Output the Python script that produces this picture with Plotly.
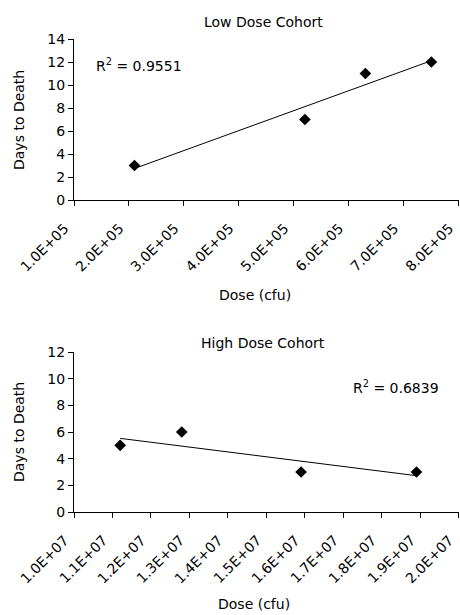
import numpy as np
import plotly.graph_objects as go

# Low dose cohort
low_dose = [2.1e5, 5.2e5, 6.3e5, 7.5e5]
low_days = [3, 7, 11, 12]
low_tickvals = [1e5, 2e5, 3e5, 4e5, 5e5, 6e5, 7e5, 8e5]
low_ticktext = ["1.0E+05", "2.0E+05", "3.0E+05", "4.0E+05", "5.0E+05", "6.0E+05", "7.0E+05", "8.0E+05"]
low_r2 = "R<sup>2</sup> = 0.9551"

# High dose cohort
high_dose = [1.12e7, 1.28e7, 1.59e7, 1.89e7]
high_days = [5, 6, 3, 3]
high_tickvals = [1.0e7, 1.1e7, 1.2e7, 1.3e7, 1.4e7, 1.5e7, 1.6e7, 1.7e7, 1.8e7, 1.9e7, 2.0e7]
high_ticktext = ["1.0E+07", "1.1E+07", "1.2E+07", "1.3E+07", "1.4E+07", "1.5E+07",
                 "1.6E+07", "1.7E+07", "1.8E+07", "1.9E+07", "2.0E+07"]
high_r2 = "R<sup>2</sup> = 0.6839"

FONT = "DejaVu Sans"
FS = 14

def trend(x, y):
    x = np.array(x, dtype=float)
    y = np.array(y, dtype=float)
    m, c = np.polyfit(x, y, 1)
    xs = np.array([x.min(), x.max()])
    return xs, m * xs + c

fig = go.Figure()

lx, ly = trend(low_dose, low_days)
fig.add_trace(go.Scatter(x=lx, y=ly, mode="lines", line=dict(color="black", width=1),
                         xaxis="x", yaxis="y", showlegend=False, hoverinfo="skip"))
fig.add_trace(go.Scatter(x=low_dose, y=low_days, mode="markers",
                         marker=dict(symbol="diamond", size=9, color="black"),
                         xaxis="x", yaxis="y", showlegend=False))

hx, hy = trend(high_dose, high_days)
fig.add_trace(go.Scatter(x=hx, y=hy, mode="lines", line=dict(color="black", width=1),
                         xaxis="x2", yaxis="y2", showlegend=False, hoverinfo="skip"))
fig.add_trace(go.Scatter(x=high_dose, y=high_days, mode="markers",
                         marker=dict(symbol="diamond", size=9, color="black"),
                         xaxis="x2", yaxis="y2", showlegend=False))

axis_common = dict(showgrid=False, zeroline=False, showline=True, linecolor="black",
                   linewidth=1, ticks="outside", ticklen=5, tickcolor="black",
                   automargin=False,
                   tickfont=dict(family=FONT, size=FS, color="black"))

H = 615
W = 460
T = 39
B = 103
L = 74
R = 1
plot_h = H - T - B

def py(p):
    return (H - B - p) / plot_h

def pxx(p):
    return (p - L) / (W - R - L)

fig.update_layout(
    width=W, height=H,
    margin=dict(l=L, r=R, t=T, b=B, autoexpand=False),
    paper_bgcolor="white", plot_bgcolor="white",
    font=dict(family=FONT, size=FS, color="black"),
    xaxis=dict(domain=[0, 1], range=[1e5, 8.003e5], tickvals=low_tickvals,
               showticklabels=False, anchor="y", **axis_common),
    yaxis=dict(domain=[py(200), 1], range=[0, 14], dtick=2, anchor="x", **axis_common),
    xaxis2=dict(domain=[0, 1], range=[1e7, 2.0004e7], tickvals=high_tickvals,
                showticklabels=False, anchor="y2", **axis_common),
    yaxis2=dict(domain=[0, py(352)], range=[0, 12], dtick=2, anchor="x2", **axis_common),
)

ann_font = dict(family=FONT, size=FS, color="black")

annotations = [
    dict(text="Low Dose Cohort", xref="paper", yref="paper", x=pxx(263), y=py(22),
         showarrow=False, font=ann_font, xanchor="center", yanchor="middle"),
    dict(text="High Dose Cohort", xref="paper", yref="paper", x=pxx(263), y=py(343),
         showarrow=False, font=ann_font, xanchor="center", yanchor="middle"),
    dict(text="Dose (cfu)", xref="paper", yref="paper", x=pxx(255), y=py(295),
         showarrow=False, font=ann_font, xanchor="center", yanchor="middle"),
    dict(text="Dose (cfu)", xref="paper", yref="paper", x=pxx(254), y=py(604),
         showarrow=False, font=ann_font, xanchor="center", yanchor="middle"),
    dict(text="Days to Death", xref="paper", yref="paper", x=pxx(19), y=py(120),
         showarrow=False, font=ann_font, textangle=-90, xanchor="center", yanchor="middle"),
    dict(text="Days to Death", xref="paper", yref="paper", x=pxx(19), y=py(432),
         showarrow=False, font=ann_font, textangle=-90, xanchor="center", yanchor="middle"),
    dict(text=low_r2, xref="x", yref="y", x=1.36e5, y=11.7,
         showarrow=False, font=ann_font, xanchor="left", yanchor="middle"),
    dict(text=high_r2, xref="x2", yref="y2", x=1.72e7, y=9.4,
         showarrow=False, font=ann_font, xanchor="left", yanchor="middle"),
]

# rotated tick labels, placed at the axis tick values
for xr, yr, vals, texts in [("x", "y", low_tickvals, low_ticktext),
                            ("x2", "y2", high_tickvals, high_ticktext)]:
    for v, t in zip(vals, texts):
        annotations.append(dict(text=t, xref=xr, yref=yr, x=v, y=0, textangle=-45,
                                showarrow=False, font=ann_font, xanchor="right",
                                yanchor="top", xshift=1, yshift=-17))

fig.update_layout(annotations=annotations)

fig.write_html("out.html", config={"displayModeBar": False},
               post_script="document.body.style.margin='0';")
